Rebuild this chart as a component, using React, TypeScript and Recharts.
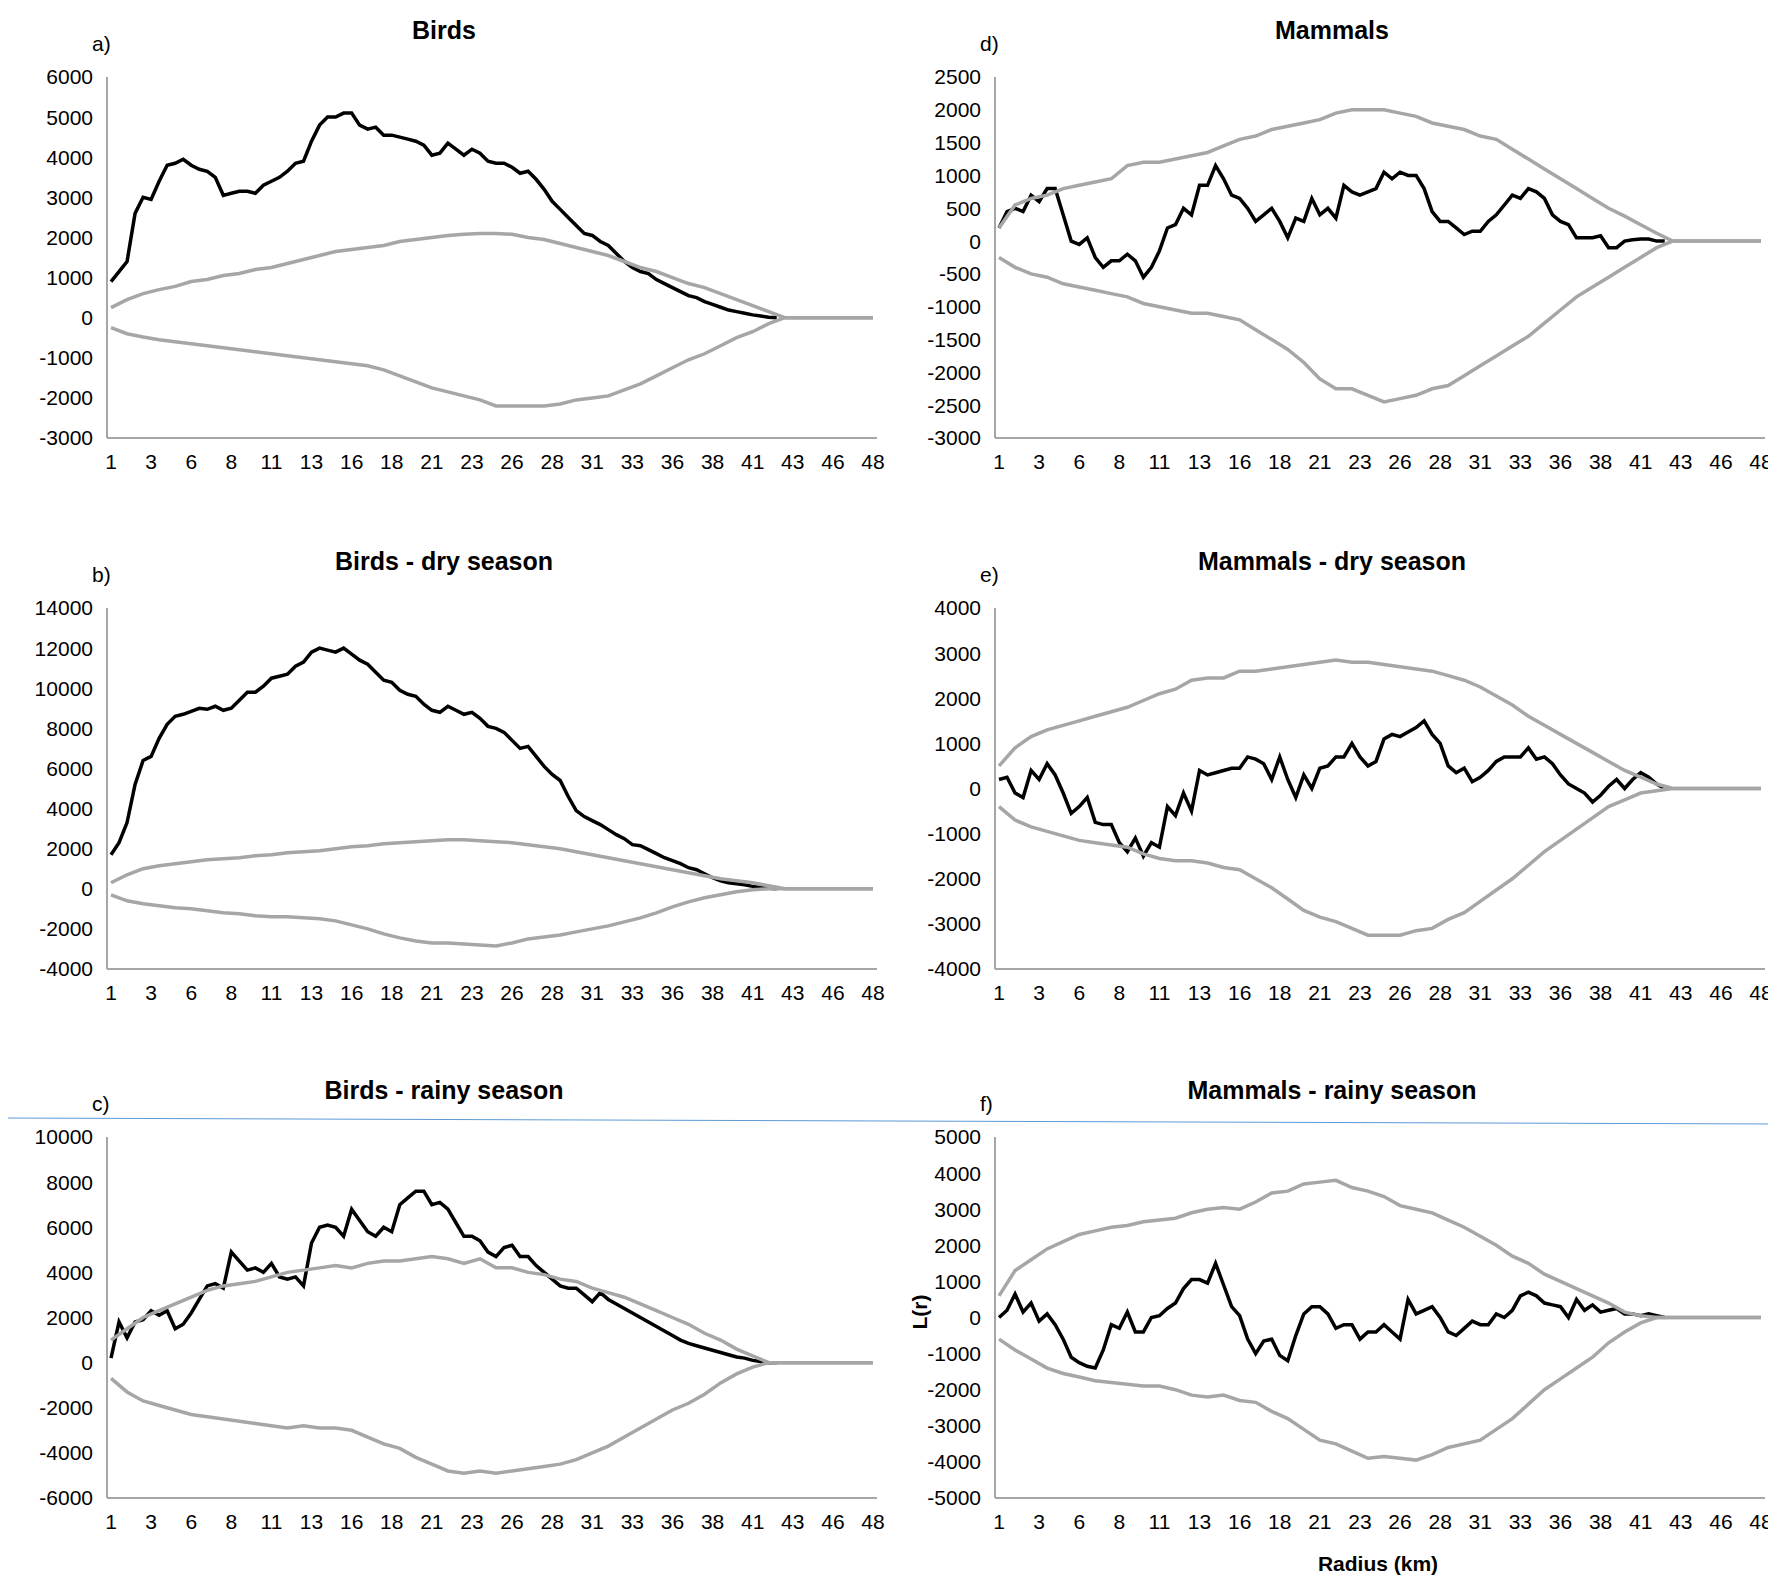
import { LineChart, Line, XAxis, YAxis } from 'recharts';

// x positions are category indices: radius 1, 1.5, 2 ... 48.5 (96 categories)
const xTicks = [0, 5, 10, 15, 20, 25, 30, 35, 40, 45, 50, 55, 60, 65, 70, 75, 80, 85, 90, 95];
const xTickLabels = ['1', '3', '6', '8', '11', '13', '16', '18', '21', '23', '26', '28', '31', '33', '36', '38', '41', '43', '46', '48'];

// observed L(r), one value per category (0..83); zero afterwards
const birdsObs = [
  900, 1150, 1400, 2600, 3000, 2950, 3400, 3800, 3850, 3950,
  3800, 3700, 3650, 3500, 3050, 3100, 3150, 3150, 3100, 3300,
  3400, 3500, 3650, 3850, 3900, 4400, 4800, 5000, 5000, 5100,
  5100, 4800, 4700, 4750, 4550, 4550, 4500, 4450, 4400, 4300,
  4050, 4100, 4350, 4200, 4050, 4200, 4100, 3900, 3850, 3850,
  3750, 3600, 3650, 3450, 3200, 2900, 2700, 2500, 2300, 2100,
  2050, 1900, 1800, 1600, 1400, 1250, 1150, 1100, 950, 850,
  750, 650, 550, 500, 400, 330, 260, 190, 150, 110,
  70, 40, 10, 0,
];
const birdsDryObs = [
  1700, 2300, 3300, 5200, 6400, 6600, 7500, 8200, 8600, 8700,
  8850, 9000, 8950, 9100, 8900, 9000, 9400, 9800, 9800, 10100,
  10500, 10600, 10700, 11100, 11300, 11800, 12000, 11900, 11800, 12000,
  11700, 11400, 11200, 10800, 10400, 10300, 9900, 9700, 9600, 9200,
  8900, 8800, 9100, 8900, 8700, 8800, 8500, 8100, 8000, 7800,
  7400, 7000, 7100, 6600, 6100, 5700, 5400, 4600, 3900, 3600,
  3400, 3200, 2950, 2700, 2500, 2200, 2150, 1950, 1750, 1550,
  1400, 1250, 1050, 950, 750, 550, 400, 300, 250, 200,
  120, 60, 20, 0,
];
const birdsRainyObs = [
  200, 1800, 1100, 1800, 1900, 2300, 2100, 2300, 1500, 1700,
  2200, 2800, 3400, 3500, 3300, 4900, 4500, 4100, 4200, 4000,
  4400, 3800, 3700, 3800, 3400, 5300, 6000, 6100, 6000, 5600,
  6800, 6300, 5800, 5600, 6000, 5800, 7000, 7300, 7600, 7600,
  7000, 7100, 6800, 6200, 5600, 5600, 5400, 4900, 4700, 5100,
  5200, 4700, 4700, 4300, 4000, 3700, 3400, 3300, 3300, 3000,
  2700, 3100, 2800, 2600, 2400, 2200, 2000, 1800, 1600, 1400,
  1200, 1000, 850, 750, 650, 550, 450, 350, 250, 200,
  100, 50, 0, 0,
];
const mammalsObs = [
  200, 450, 500, 450, 700, 600, 800, 800, 400, 0,
  -50, 50, -250, -400, -300, -300, -200, -300, -550, -400,
  -150, 200, 250, 500, 400, 850, 850, 1150, 950, 700,
  650, 500, 300, 400, 500, 300, 50, 350, 300, 650,
  400, 500, 350, 850, 750, 700, 750, 800, 1050, 950,
  1050, 1000, 1000, 800, 450, 300, 300, 200, 100, 150,
  150, 300, 400, 550, 700, 650, 800, 750, 650, 400,
  300, 250, 50, 50, 50, 80, -100, -100, 0, 20,
  30, 30, 0, 0,
];
const mammalsDryObs = [
  200, 250, -100, -200, 400, 200, 550, 300, -100, -550,
  -400, -200, -750, -800, -800, -1200, -1400, -1100, -1500, -1200,
  -1300, -400, -600, -100, -500, 400, 300, 350, 400, 450,
  450, 700, 650, 550, 200, 700, 200, -200, 300, 0,
  450, 500, 700, 700, 1000, 700, 500, 600, 1100, 1200,
  1150, 1250, 1350, 1500, 1200, 1000, 500, 350, 450, 150,
  250, 400, 600, 700, 700, 700, 900, 650, 700, 550,
  300, 100, 0, -100, -300, -150, 50, 200, 0, 200,
  350, 250, 100, 0,
];
const mammalsRainyObs = [
  0, 200, 650, 150, 400, -100, 100, -200, -600, -1100,
  -1250, -1350, -1400, -900, -200, -300, 150, -400, -400, 0,
  50, 250, 400, 800, 1050, 1050, 950, 1500, 900, 300,
  50, -600, -1000, -650, -600, -1050, -1200, -500, 100, 300,
  300, 100, -300, -200, -200, -600, -400, -400, -200, -400,
  -600, 500, 100, 200, 300, 0, -400, -500, -300, -100,
  -200, -200, 100, 0, 200, 600, 700, 600, 400, 350,
  300, 0, 500, 200, 350, 150, 200, 250, 100, 100,
  50, 100, 50, 0,
];

// simulation envelopes, one value every second category (0, 2, ... 94)
const birdsHi = [
  250, 450, 600, 700, 780, 900, 950, 1050, 1100, 1200,
  1250, 1350, 1450, 1550, 1650, 1700, 1750, 1800, 1900, 1950,
  2000, 2050, 2080, 2100, 2100, 2080, 2000, 1950, 1850, 1750,
  1650, 1550, 1400, 1250, 1150, 1000, 850, 750, 600, 450,
  300, 150, 0, 0, 0, 0, 0, 0,
];
const birdsLo = [
  -250, -400, -480, -550, -600, -650, -700, -750, -800, -850,
  -900, -950, -1000, -1050, -1100, -1150, -1200, -1300, -1450, -1600,
  -1750, -1850, -1950, -2050, -2200, -2200, -2200, -2200, -2150, -2050,
  -2000, -1950, -1800, -1650, -1450, -1250, -1050, -900, -700, -500,
  -350, -150, 0, 0, 0, 0, 0, 0,
];
const birdsDryHi = [
  300, 700, 1000, 1150, 1250, 1350, 1450, 1500, 1550, 1650,
  1700, 1800, 1850, 1900, 2000, 2100, 2150, 2250, 2300, 2350,
  2400, 2450, 2450, 2400, 2350, 2300, 2200, 2100, 2000, 1850,
  1700, 1550, 1400, 1250, 1100, 950, 800, 650, 500, 400,
  300, 150, 0, 0, 0, 0, 0, 0,
];
const birdsDryLo = [
  -300, -600, -750, -850, -950, -1000, -1100, -1200, -1250, -1350,
  -1400, -1400, -1450, -1500, -1600, -1800, -2000, -2250, -2450, -2600,
  -2700, -2700, -2750, -2800, -2850, -2700, -2500, -2400, -2300, -2150,
  -2000, -1850, -1650, -1450, -1200, -900, -650, -450, -300, -150,
  -50, 0, 0, 0, 0, 0, 0, 0,
];
const birdsRainyHi = [
  1000, 1500, 2000, 2300, 2600, 2900, 3200, 3400, 3500, 3600,
  3800, 4000, 4100, 4200, 4300, 4200, 4400, 4500, 4500, 4600,
  4700, 4600, 4400, 4600, 4200, 4200, 4000, 3900, 3700, 3600,
  3300, 3100, 2900, 2600, 2300, 2000, 1700, 1300, 1000, 600,
  300, 0, 0, 0, 0, 0, 0, 0,
];
const birdsRainyLo = [
  -700, -1300, -1700, -1900, -2100, -2300, -2400, -2500, -2600, -2700,
  -2800, -2900, -2800, -2900, -2900, -3000, -3300, -3600, -3800, -4200,
  -4500, -4800, -4900, -4800, -4900, -4800, -4700, -4600, -4500, -4300,
  -4000, -3700, -3300, -2900, -2500, -2100, -1800, -1400, -900, -500,
  -200, 0, 0, 0, 0, 0, 0, 0,
];
const mammalsHi = [
  200, 550, 650, 700, 800, 850, 900, 950, 1150, 1200,
  1200, 1250, 1300, 1350, 1450, 1550, 1600, 1700, 1750, 1800,
  1850, 1950, 2000, 2000, 2000, 1950, 1900, 1800, 1750, 1700,
  1600, 1550, 1400, 1250, 1100, 950, 800, 650, 500, 380,
  250, 120, 0, 0, 0, 0, 0, 0,
];
const mammalsLo = [
  -250, -400, -500, -550, -650, -700, -750, -800, -850, -950,
  -1000, -1050, -1100, -1100, -1150, -1200, -1350, -1500, -1650, -1850,
  -2100, -2250, -2250, -2350, -2450, -2400, -2350, -2250, -2200, -2050,
  -1900, -1750, -1600, -1450, -1250, -1050, -850, -700, -550, -400,
  -250, -100, 0, 0, 0, 0, 0, 0,
];
const mammalsDryHi = [
  500, 900, 1150, 1300, 1400, 1500, 1600, 1700, 1800, 1950,
  2100, 2200, 2400, 2450, 2450, 2600, 2600, 2650, 2700, 2750,
  2800, 2850, 2800, 2800, 2750, 2700, 2650, 2600, 2500, 2400,
  2250, 2050, 1850, 1600, 1400, 1200, 1000, 800, 600, 400,
  250, 100, 0, 0, 0, 0, 0, 0,
];
const mammalsDryLo = [
  -400, -700, -850, -950, -1050, -1150, -1200, -1250, -1300, -1450,
  -1550, -1600, -1600, -1650, -1750, -1800, -2000, -2200, -2450, -2700,
  -2850, -2950, -3100, -3250, -3250, -3250, -3150, -3100, -2900, -2750,
  -2500, -2250, -2000, -1700, -1400, -1150, -900, -650, -400, -250,
  -100, -50, 0, 0, 0, 0, 0, 0,
];
const mammalsRainyHi = [
  600, 1300, 1600, 1900, 2100, 2300, 2400, 2500, 2550, 2650,
  2700, 2750, 2900, 3000, 3050, 3000, 3200, 3450, 3500, 3700,
  3750, 3800, 3600, 3500, 3350, 3100, 3000, 2900, 2700, 2500,
  2250, 2000, 1700, 1500, 1200, 1000, 800, 600, 400, 150,
  50, 0, 0, 0, 0, 0, 0, 0,
];
const mammalsRainyLo = [
  -600, -900, -1150, -1400, -1550, -1650, -1750, -1800, -1850, -1900,
  -1900, -2000, -2150, -2200, -2150, -2300, -2350, -2600, -2800, -3100,
  -3400, -3500, -3700, -3900, -3850, -3900, -3950, -3800, -3600, -3500,
  -3400, -3100, -2800, -2400, -2000, -1700, -1400, -1100, -700, -400,
  -150, 0, 0, 0, 0, 0, 0, 0,
];

const FONT = '"Liberation Sans", Arial, sans-serif';
const GRAY = '#a6a6a6';
const W = 888;
const H = 530;

const obsPoints = (arr: number[]) => arr.map((y, i) => ({ x: i, y }));
const envPoints = (arr: number[]) => {
  const pts = arr.map((y, k) => ({ x: k * 2, y }));
  return [...pts, { x: 95, y: arr[arr.length - 1] }];
};

interface PanelProps {
  title: string;
  letter: string;
  obs: number[];
  hi: number[];
  lo: number[];
  yTicks: number[];
  left: number;
  top: number;
  yLabel?: string;
  xLabel?: string;
}

function Panel({ title, letter, obs, hi, lo, yTicks, left, top, yLabel, xLabel }: PanelProps) {
  const tick = { fill: '#000', fontSize: 21, fontFamily: FONT };
  return (
    <div style={{ position: 'absolute', left, top, width: W, height: H }}>
      <LineChart width={W} height={H} margin={{ top: 77, right: 11, bottom: 60, left: 19 }}>
        <XAxis
          type="number"
          dataKey="x"
          domain={[-0.5, 95.5]}
          ticks={xTicks}
          tickFormatter={(v: number) => xTickLabels[xTicks.indexOf(v)]}
          tickLine={false}
          axisLine={{ stroke: GRAY, strokeWidth: 2 }}
          tick={tick}
          tickMargin={10}
          interval={0}
          height={32}
        />
        <YAxis
          type="number"
          dataKey="y"
          domain={[yTicks[0], yTicks[yTicks.length - 1]]}
          ticks={yTicks}
          interval={0}
          tickLine={false}
          axisLine={{ stroke: GRAY, strokeWidth: 2 }}
          tick={tick}
          tickMargin={8}
          width={88}
        />
        <Line data={obsPoints(obs)} dataKey="y" stroke="#000" strokeWidth={3.5} dot={false} isAnimationActive={false} />
        <Line data={envPoints(hi)} dataKey="y" stroke={GRAY} strokeWidth={3.5} dot={false} isAnimationActive={false} />
        <Line data={envPoints(lo)} dataKey="y" stroke={GRAY} strokeWidth={3.5} dot={false} isAnimationActive={false} />
      </LineChart>
      <div style={{ position: 'absolute', left: 0, width: W, top: 16, textAlign: 'center', fontFamily: FONT, fontWeight: 'bold', fontSize: 25 }}>
        {title}
      </div>
      <div style={{ position: 'absolute', left: 92, top: 32, fontFamily: FONT, fontSize: 21 }}>{letter}</div>
      {yLabel && (
        <div style={{ position: 'absolute', left: 14, top: 240, transform: 'rotate(-90deg)', fontFamily: FONT, fontWeight: 'bold', fontSize: 21 }}>
          {yLabel}
        </div>
      )}
      {xLabel && (
        <div style={{ position: 'absolute', left: 110, width: 760, top: 492, textAlign: 'center', fontFamily: FONT, fontWeight: 'bold', fontSize: 21 }}>
          {xLabel}
        </div>
      )}
    </div>
  );
}

export default function App() {
  return (
    <div style={{ position: 'relative', margin: -8, width: 1776, height: 1590, background: '#fff', overflow: 'hidden' }}>
      <Panel title="Birds" letter="a)" obs={birdsObs} hi={birdsHi} lo={birdsLo}
        yTicks={[-3000, -2000, -1000, 0, 1000, 2000, 3000, 4000, 5000, 6000]} left={0} top={0} />
      <Panel title="Birds - dry season" letter="b)" obs={birdsDryObs} hi={birdsDryHi} lo={birdsDryLo}
        yTicks={[-4000, -2000, 0, 2000, 4000, 6000, 8000, 10000, 12000, 14000]} left={0} top={531} />
      <Panel title="Birds - rainy season" letter="c)" obs={birdsRainyObs} hi={birdsRainyHi} lo={birdsRainyLo}
        yTicks={[-6000, -4000, -2000, 0, 2000, 4000, 6000, 8000, 10000]} left={0} top={1060} />
      <Panel title="Mammals" letter="d)" obs={mammalsObs} hi={mammalsHi} lo={mammalsLo}
        yTicks={[-3000, -2500, -2000, -1500, -1000, -500, 0, 500, 1000, 1500, 2000, 2500]} left={888} top={0} />
      <Panel title="Mammals - dry season" letter="e)" obs={mammalsDryObs} hi={mammalsDryHi} lo={mammalsDryLo}
        yTicks={[-4000, -3000, -2000, -1000, 0, 1000, 2000, 3000, 4000]} left={888} top={531} />
      <Panel title="Mammals - rainy season" letter="f)" obs={mammalsRainyObs} hi={mammalsRainyHi} lo={mammalsRainyLo}
        yTicks={[-5000, -4000, -3000, -2000, -1000, 0, 1000, 2000, 3000, 4000, 5000]} left={888} top={1060}
        yLabel="L(r)" xLabel="Radius (km)" />
      <svg style={{ position: 'absolute', left: 0, top: 0 }} width={1776} height={1590}>
        <line x1={0} y1={1118} x2={1776} y2={1124} stroke="#5b9bd5" strokeWidth={1} />
      </svg>
    </div>
  );
}
